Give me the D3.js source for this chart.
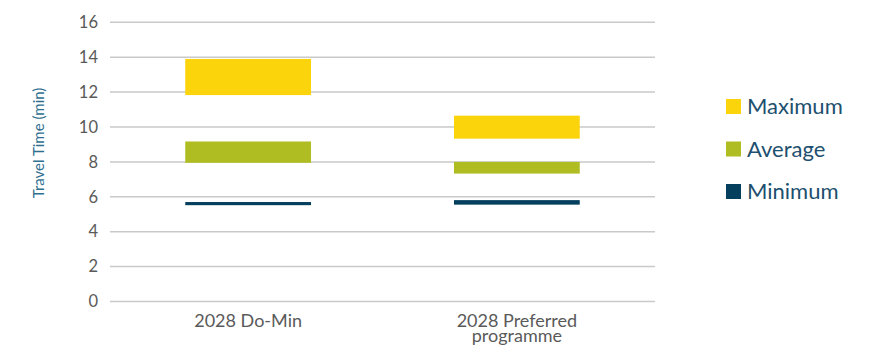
<!DOCTYPE html>
<html>
<head>
<meta charset="utf-8">
<script src="https://cdn.jsdelivr.net/npm/d3@7"></script>
<style>
  html, body { margin: 0; padding: 0; background: #fff; }
  svg { display: block; font-family: Lato, "Open Sans", sans-serif; }
</style>
</head>
<body>
<div id="chart"></div>
<script>
// Floating range bars: min / average / max travel time per scenario

const categories = ['2028 Do-Min', '2028 Preferred programme'];
const categoryLines = [['2028 Do-Min'], ['2028 Preferred', 'programme']];
const seriesNames = ['Maximum', 'Average', 'Minimum'];
const seriesColors = ['#fcd40c', '#afbd23', '#053f5e'];

// [low, high] for each series, per category
const maximumRange = [[11.83, 13.9], [9.33, 10.65]];
const averageRange = [[7.95, 9.17], [7.33, 8.0]];
const minimumRange = [[5.52, 5.70], [5.55, 5.81]];

const yTicks = [0, 2, 4, 6, 8, 10, 12, 14, 16];

const width = 887, height = 347;

const svg = d3.select('#chart')
    .append('svg')
    .attr('width', width)
    .attr('height', height);

const x = d3.scaleBand()
    .domain(categories)
    .range([110, 655])
    .paddingInner(0.532)
    .paddingOuter(0.28);

const y = d3.scaleLinear()
    .domain([0, 16])
    .range([301.5, 22.3]);

// gridlines
svg.append('g')
    .selectAll('line')
    .data(yTicks)
    .join('line')
    .attr('x1', 110)
    .attr('x2', 655)
    .attr('y1', d => y(d))
    .attr('y2', d => y(d))
    .attr('stroke', '#c9c9c9')
    .attr('stroke-width', 1.5);

// y axis labels
const yAxis = svg.append('g')
    .attr('transform', 'translate(110,0)')
    .call(d3.axisLeft(y).tickValues(yTicks).tickSize(0).tickPadding(12));
yAxis.select('.domain').remove();
yAxis.selectAll('text')
    .attr('fill', '#5a5a5a')
    .style('font-size', '16.5px')
    .style('font-family', 'Lato, sans-serif');

svg.append('text')
    .attr('transform', 'translate(44,143) rotate(-90)')
    .attr('text-anchor', 'middle')
    .attr('fill', '#2f6f8f')
    .style('font-size', '15px')
    .text('Travel Time (min)');

// bars
const allRanges = [maximumRange, averageRange, minimumRange];
allRanges.forEach((ranges, si) => {
    svg.append('g')
        .selectAll('rect')
        .data(ranges)
        .join('rect')
        .attr('x', (d, i) => x(categories[i]))
        .attr('width', x.bandwidth())
        .attr('y', d => y(d[1]))
        .attr('height', d => y(d[0]) - y(d[1]))
        .attr('fill', seriesColors[si]);
});

// category labels
categoryLines.forEach((lines, i) => {
    const t = svg.append('text')
        .attr('text-anchor', 'middle')
        .attr('fill', '#5a5a5a')
        .style('font-size', '18px');
    lines.forEach((line, li) => {
        t.append('tspan')
            .attr('x', x(categories[i]) + x.bandwidth() / 2)
            .attr('y', 327 + li * 15)
            .text(line);
    });
});

// legend
const legend = svg.append('g')
    .attr('transform', 'translate(726,99)');
seriesNames.forEach((name, i) => {
    const item = legend.append('g')
        .attr('transform', `translate(0,${i * 42.5})`);
    item.append('rect')
        .attr('width', 15)
        .attr('height', 15)
        .attr('fill', seriesColors[i]);
    item.append('text')
        .attr('x', 21)
        .attr('y', 15)
        .attr('fill', '#1d4f6e')
        .style('font-size', '22px')
        .text(name);
});
</script>
</body>
</html>
